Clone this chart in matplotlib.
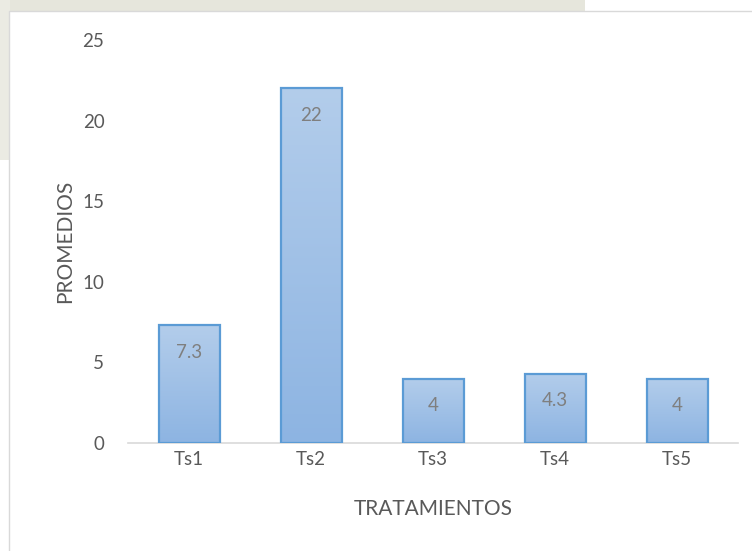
import matplotlib
matplotlib.use("Agg")
import matplotlib.pyplot as plt
import numpy as np
from matplotlib.patches import Rectangle
from matplotlib.colors import LinearSegmentedColormap

categories = ["Ts1", "Ts2", "Ts3", "Ts4", "Ts5"]
promedios = [7.3, 22, 4, 4.3, 4]
value_labels = ["7.3", "22", "4", "4.3", "4"]
y_ticks = [0, 5, 10, 15, 20, 25]

plt.rcParams["font.family"] = ["Lato", "DejaVu Sans"]

W, H = 752, 551
fig = plt.figure(figsize=(W / 100, H / 100), dpi=100)
fig.patch.set_facecolor("white")

# faint watermark remnants behind the chart box
fig.patches.append(Rectangle((0, 1 - 14 / H), 585 / W, 14 / H, transform=fig.transFigure,
                             facecolor="#e6e6dc", edgecolor="none", zorder=0))
fig.patches.append(Rectangle((0, 1 - 160 / H), 10 / W, 160 / H, transform=fig.transFigure,
                             facecolor="#ebebe3", edgecolor="none", zorder=0))
# chart area box
fig.patches.append(Rectangle((9 / W, -0.01), 1.0, 1 - 11 / H + 0.01, transform=fig.transFigure,
                             facecolor="white", edgecolor="#d9d9d9", lw=1.0, zorder=1))

ax = fig.add_axes([128 / W, 1 - 443 / H, (738 - 128) / W, (443 - 40) / H])
ax.set_facecolor("none")
ax.set_zorder(2)

x = np.arange(len(categories))
bars = ax.bar(x, promedios, width=0.5, facecolor="none", edgecolor="#5b9bd5", linewidth=1.6, zorder=3)

cmap = LinearSegmentedColormap.from_list("grad", ["#b3cdeb", "#8db4e2"])
grad = np.linspace(0, 1, 256).reshape(-1, 1)
for b in bars:
    x0, w, h = b.get_x(), b.get_width(), b.get_height()
    im = ax.imshow(grad, cmap=cmap, aspect="auto", extent=(x0, x0 + w, 0, h),
                   origin="upper", zorder=2, interpolation="bicubic")
    im.set_clip_path(b)

for b, lab in zip(bars, value_labels):
    ax.annotate(lab, (b.get_x() + b.get_width() / 2, b.get_height()),
                xytext=(0, -27), textcoords="offset pixels", ha="center", va="center",
                fontsize=13.5, color="#7f7f7f", zorder=4)

ax.set_xlim(-0.5, len(categories) - 0.5)
ax.set_ylim(0, 25)
ax.set_yticks(y_ticks)
ax.set_xticks(x)
ax.set_xticklabels(categories)
ax.tick_params(axis="both", length=0, labelsize=13.5, labelcolor="#595959")
ax.tick_params(axis="y", pad=17)
ax.tick_params(axis="x", pad=6)
for s in ["top", "right", "left"]:
    ax.spines[s].set_visible(False)
ax.spines["bottom"].set_color("#d9d9d9")
ax.spines["bottom"].set_linewidth(1.2)

ax.set_xlabel("TRATAMIENTOS", fontsize=15, color="#595959", labelpad=22)
ax.set_ylabel("PROMEDIOS", fontsize=15, color="#595959", labelpad=5)

fig.savefig("out.png", dpi=100)
